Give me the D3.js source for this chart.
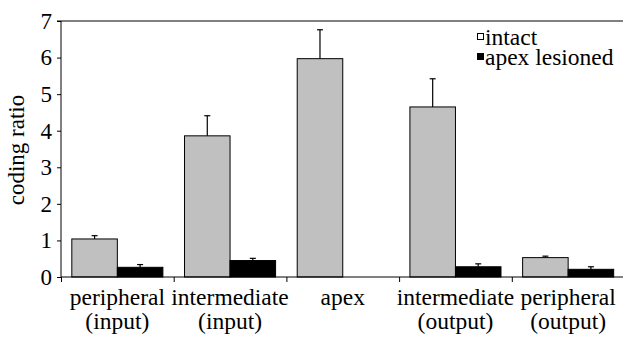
<!DOCTYPE html>
<html><head><meta charset="utf-8">
<script src="https://cdn.jsdelivr.net/npm/d3@7"></script>
</head>
<body style="margin:0;background:#fff"><svg id="c" width="623" height="338" style="display:block"></svg>
<script>
const categories = [["peripheral","(input)"],["intermediate","(input)"],["apex",""],["intermediate","(output)"],["peripheral","(output)"]];
const seriesNames = ["intact","apex lesioned"];
const intactValues = [1.04, 3.86, 5.97, 4.65, 0.53];
const intactErrors = [1.13, 4.41, 6.76, 5.42, 0.57];
const lesionedValues = [0.265, 0.45, null, 0.28, 0.21];
const lesionedErrors = [0.34, 0.51, null, 0.36, 0.28];
const yTicks = [0,1,2,3,4,5,6,7];
const colors = ["#c0c0c0","#000000"];

const FONT = '"Times New Roman"';
const svg = d3.select("#c");
const mLeft = 61, mRight = 624.5, mTop = 21, mBottom = 277;
const x0 = d3.scaleBand().domain(d3.range(categories.length)).range([mLeft, mRight]).paddingInner(0).paddingOuter(0);
const x1 = d3.scaleBand().domain([0,1]).range([0, x0.bandwidth()]).paddingInner(0).paddingOuter(0.2375);
const y = d3.scaleLinear().domain([0,7]).range([mBottom, mTop]);

function label(sel, txt, size) {
  return sel.append("text").style("font-family", FONT).attr("font-size", size).attr("fill", "#000").text(txt);
}

svg.append("line").attr("x1", mLeft).attr("x2", 623).attr("y1", y(7)).attr("y2", y(7)).attr("stroke","#000").attr("stroke-width",1);

const series = [
  {vals: intactValues, errs: intactErrors},
  {vals: lesionedValues, errs: lesionedErrors}
];
series.forEach((s, si) => {
  const g = svg.append("g");
  categories.forEach((c, i) => {
    const v = s.vals[i];
    if (v == null) return;
    const bx = x0(i) + x1(si), bw = x1.bandwidth();
    g.append("rect").attr("x", bx).attr("y", y(v)).attr("width", bw).attr("height", y(0) - y(v))
      .attr("fill", colors[si]).attr("stroke", "#000").attr("stroke-width", 1);
    const cx = bx + bw/2;
    g.append("line").attr("x1", cx).attr("x2", cx).attr("y1", y(v)).attr("y2", y(s.errs[i])).attr("stroke","#000").attr("stroke-width",1.2);
    g.append("line").attr("x1", cx-3).attr("x2", cx+3).attr("y1", y(s.errs[i])).attr("y2", y(s.errs[i])).attr("stroke","#000").attr("stroke-width",1.2);
  });
});

const yAxis = d3.axisLeft(y).tickValues(yTicks).tickSize(4).tickPadding(5).tickFormat(d3.format("d"));
const ya = svg.append("g").attr("transform", `translate(${mLeft},0)`).call(yAxis);
ya.attr("font-family", null).attr("font-size", null);
ya.select(".domain").attr("d", `M-4,${y(7)}H0V${y(0)}`);
ya.selectAll("text").attr("font-size", 23).style("font-family", FONT).attr("fill","#000");

const xAxis = d3.axisBottom(d3.scaleLinear().domain([0,5]).range([mLeft, mLeft + 5*x0.bandwidth()]))
  .tickValues([0,1,2,3,4]).tickSize(5).tickFormat("");
const xa = svg.append("g").attr("transform", `translate(0,${mBottom})`).call(xAxis);
xa.select(".domain").attr("d", `M${mLeft},0H623`);

categories.forEach((c, i) => {
  const cx = x0(i) + x0.bandwidth()/2;
  label(svg, c[0], 23.5).attr("x", cx).attr("y", 305).attr("text-anchor","middle");
  if (c[1]) label(svg, c[1], 23.5).attr("x", cx).attr("y", 329).attr("text-anchor","middle");
});

label(svg, "coding ratio", 23).attr("transform", "translate(24,150) rotate(-90)").attr("text-anchor","middle");

const lg = svg.append("g");
seriesNames.forEach((n, i) => {
  const ly = 45 + i*20;
  lg.append("rect").attr("x", 477.5).attr("y", ly - 11.5).attr("width", 6).attr("height", 6)
    .attr("fill", i === 0 ? "#fff" : "#000").attr("stroke","#000").attr("stroke-width",1);
  label(lg, n, 23.5).attr("x", 485).attr("y", ly);
});
</script></body></html>
